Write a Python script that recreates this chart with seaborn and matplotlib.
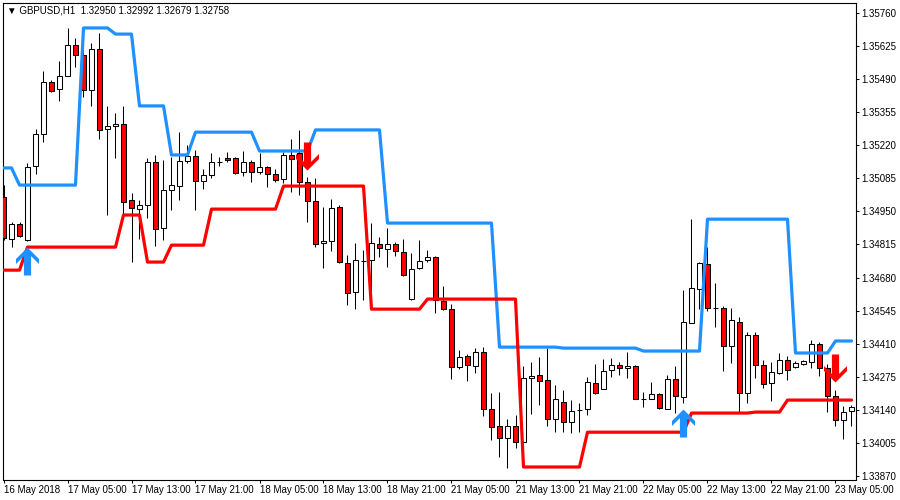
import matplotlib
matplotlib.use("Agg")
import numpy as np
import pandas as pd
import seaborn as sns
import matplotlib.pyplot as plt
from matplotlib.path import Path

# ---------------- data (GBPUSD H1) ----------------
open_ = [1.35008, 1.34837, 1.34898, 1.34833, 1.35135, 1.35265, 1.35477, 1.35449, 1.35502, 1.35628,
         1.35588, 1.35445, 1.35612, 1.35286, 1.35298, 1.35306, 1.34996, 1.34959, 1.34976, 1.35151,
         1.34882, 1.35037, 1.35053, 1.35155, 1.35176, 1.35074, 1.35098, 1.35151, 1.35167, 1.35167,
         1.35110, 1.35151, 1.35110, 1.35131, 1.35102, 1.35082, 1.35180, 1.35188, 1.35069, 1.34992,
         1.34821, 1.34829, 1.34967, 1.34739, 1.34621, 1.34747, 1.34751, 1.34817, 1.34796, 1.34817,
         1.34784, 1.34592, 1.34719, 1.34751, 1.34763, 1.34584, 1.34551, 1.34315, 1.34360, 1.34319,
         1.34376, 1.34143, 1.34074, 1.34025, 1.34074, 1.34009, 1.34270, 1.34282, 1.34262, 1.34102,
         1.34172, 1.34090, 1.34139, 1.34143, 1.34249, 1.34225, 1.34302, 1.34323, 1.34311, 1.34319,
         1.34184, 1.34184, 1.34204, 1.34143, 1.34266, 1.34192, 1.34494, 1.34633, 1.34735, 1.34555,
         1.34555, 1.34400, 1.34498, 1.34209, 1.34445, 1.34323, 1.34249, 1.34290, 1.34343, 1.34315,
         1.34327, 1.34335, 1.34408, 1.34311, 1.34196, 1.34098, 1.34135]
high = [1.35057, 1.34906, 1.34906, 1.35147, 1.35286, 1.35522, 1.35486, 1.35563, 1.35698, 1.35657,
        1.35608, 1.35637, 1.35677, 1.35380, 1.35351, 1.35380, 1.35025, 1.34996, 1.35167, 1.35180,
        1.35159, 1.35171, 1.35273, 1.35220, 1.35200, 1.35123, 1.35188, 1.35171, 1.35192, 1.35171,
        1.35196, 1.35159, 1.35188, 1.35135, 1.35123, 1.35192, 1.35245, 1.35282, 1.35090, 1.35086,
        1.34967, 1.35000, 1.34976, 1.34772, 1.34821, 1.34792, 1.34902, 1.34845, 1.34882, 1.34825,
        1.34837, 1.34780, 1.34833, 1.34792, 1.34768, 1.34645, 1.34572, 1.34384, 1.34368, 1.34392,
        1.34396, 1.34209, 1.34213, 1.34102, 1.34119, 1.34319, 1.34335, 1.34355, 1.34392, 1.34241,
        1.34221, 1.34180, 1.34168, 1.34274, 1.34327, 1.34347, 1.34351, 1.34335, 1.34376, 1.34323,
        1.34213, 1.34253, 1.34209, 1.34282, 1.34319, 1.34629, 1.34918, 1.34743, 1.34804, 1.34657,
        1.34564, 1.34555, 1.34519, 1.34457, 1.34457, 1.34343, 1.34335, 1.34372, 1.34360, 1.34339,
        1.34343, 1.34425, 1.34417, 1.34327, 1.34221, 1.34155, 1.34160]
low = [1.34833, 1.34804, 1.34845, 1.34829, 1.35102, 1.35233, 1.35437, 1.35400, 1.35502, 1.35539,
       1.35416, 1.35380, 1.35245, 1.34935, 1.35167, 1.34935, 1.34743, 1.34837, 1.34923, 1.34808,
       1.34833, 1.34955, 1.34996, 1.35147, 1.34955, 1.35041, 1.35086, 1.35135, 1.35151, 1.35102,
       1.35094, 1.35069, 1.35102, 1.35049, 1.35069, 1.35065, 1.35029, 1.35016, 1.34906, 1.34804,
       1.34719, 1.34788, 1.34739, 1.34568, 1.34551, 1.34588, 1.34617, 1.34763, 1.34723, 1.34768,
       1.34686, 1.34588, 1.34715, 1.34743, 1.34535, 1.34547, 1.34266, 1.34306, 1.34258, 1.34290,
       1.34115, 1.34017, 1.33947, 1.33903, 1.33984, 1.34009, 1.34123, 1.34160, 1.34074, 1.34049,
       1.34049, 1.34045, 1.34049, 1.34119, 1.34204, 1.34225, 1.34274, 1.34282, 1.34270, 1.34184,
       1.34151, 1.34184, 1.34143, 1.34143, 1.34127, 1.34168, 1.34494, 1.34551, 1.34543, 1.34478,
       1.34298, 1.34331, 1.34131, 1.34168, 1.34270, 1.34229, 1.34176, 1.34286, 1.34262, 1.34311,
       1.34323, 1.34311, 1.34278, 1.34131, 1.34074, 1.34021, 1.34074]
close = [1.34841, 1.34898, 1.34849, 1.35131, 1.35265, 1.35477, 1.35441, 1.35502, 1.35628, 1.35588,
         1.35445, 1.35612, 1.35282, 1.35298, 1.35306, 1.34988, 1.34963, 1.34976, 1.35151, 1.34878,
         1.35037, 1.35057, 1.35155, 1.35176, 1.35074, 1.35098, 1.35151, 1.35151, 1.35159, 1.35106,
         1.35151, 1.35110, 1.35131, 1.35102, 1.35078, 1.35180, 1.35163, 1.35069, 1.34992, 1.34817,
         1.34829, 1.34963, 1.34743, 1.34617, 1.34751, 1.34747, 1.34821, 1.34800, 1.34817, 1.34788,
         1.34690, 1.34715, 1.34747, 1.34763, 1.34588, 1.34551, 1.34315, 1.34355, 1.34323, 1.34376,
         1.34143, 1.34070, 1.34025, 1.34074, 1.34009, 1.34270, 1.34278, 1.34258, 1.34102, 1.34184,
         1.34090, 1.34135, 1.34139, 1.34253, 1.34209, 1.34298, 1.34323, 1.34311, 1.34319, 1.34184,
         1.34184, 1.34204, 1.34147, 1.34266, 1.34196, 1.34498, 1.34637, 1.34739, 1.34555, 1.34555,
         1.34400, 1.34506, 1.34209, 1.34445, 1.34323, 1.34245, 1.34294, 1.34343, 1.34302, 1.34331,
         1.34339, 1.34408, 1.34311, 1.34196, 1.34098, 1.34131, 1.34151]

upper = [1.35127, 1.35127,
         1.35057, 1.35057, 1.35057, 1.35057, 1.35057, 1.35057, 1.35057, 1.35057,
         1.35698, 1.35698, 1.35698, 1.35698,
         1.35673, 1.35673, 1.35673,
         1.35380, 1.35380, 1.35380, 1.35380,
         1.35180, 1.35180, 1.35180,
         1.35273, 1.35273, 1.35273, 1.35273, 1.35273, 1.35273, 1.35273, 1.35273,
         1.35196, 1.35196, 1.35196, 1.35196, 1.35196, 1.35196, 1.35196,
         1.35282, 1.35282, 1.35282, 1.35282, 1.35282, 1.35282, 1.35282, 1.35282, 1.35282,
         1.34902, 1.34902, 1.34902, 1.34902, 1.34902, 1.34902, 1.34902, 1.34902, 1.34902, 1.34902,
         1.34902, 1.34902, 1.34902, 1.34902,
         1.34396, 1.34396, 1.34396, 1.34396, 1.34396, 1.34396, 1.34396, 1.34396,
         1.34392, 1.34392, 1.34392, 1.34392, 1.34392, 1.34392, 1.34392, 1.34392, 1.34392, 1.34392,
         1.34380, 1.34380, 1.34380, 1.34380, 1.34380, 1.34380, 1.34380, 1.34380,
         1.34918, 1.34918, 1.34918, 1.34918, 1.34918, 1.34918, 1.34918, 1.34918, 1.34918, 1.34918,
         1.34918,
         1.34372, 1.34372, 1.34372, 1.34372, 1.34372,
         1.34421, 1.34421, 1.34421]
lower = [1.34710, 1.34710, 1.34710,
         1.34804, 1.34804, 1.34804, 1.34804, 1.34804, 1.34804, 1.34804, 1.34804, 1.34804, 1.34804,
         1.34804, 1.34804,
         1.34935, 1.34935, 1.34935,
         1.34743, 1.34743, 1.34743,
         1.34812, 1.34812, 1.34812, 1.34812, 1.34812,
         1.34959, 1.34959, 1.34959, 1.34959, 1.34959, 1.34959, 1.34959, 1.34959, 1.34959,
         1.35053, 1.35053, 1.35053, 1.35053, 1.35053, 1.35053, 1.35053, 1.35053, 1.35053, 1.35053,
         1.35053,
         1.34551, 1.34551, 1.34551, 1.34551, 1.34551, 1.34551, 1.34551,
         1.34592, 1.34592, 1.34592, 1.34592, 1.34592, 1.34592, 1.34592, 1.34592, 1.34592, 1.34592,
         1.34592, 1.34592,
         1.33907, 1.33907, 1.33907, 1.33907, 1.33907, 1.33907, 1.33907, 1.33907,
         1.34049, 1.34049, 1.34049, 1.34049, 1.34049, 1.34049, 1.34049, 1.34049, 1.34049, 1.34049,
         1.34049, 1.34049, 1.34049,
         1.34127, 1.34127, 1.34127, 1.34127, 1.34127, 1.34127, 1.34127, 1.34127,
         1.34131, 1.34131, 1.34131, 1.34131,
         1.34180, 1.34180, 1.34180, 1.34180, 1.34180, 1.34180, 1.34180, 1.34180, 1.34180]

buy_bars = [3, 85]
buy_prices = [1.34805, 1.34145]
sell_bars = [38, 104]
sell_prices = [1.35118, 1.34255]

x_tick_bars = [0, 8, 16, 24, 32, 40, 48, 56, 64, 72, 80, 88, 96, 104]
x_tick_labels = ["16 May 2018", "17 May 05:00", "17 May 13:00", "17 May 21:00",
                 "18 May 05:00", "18 May 13:00", "18 May 21:00", "21 May 05:00",
                 "21 May 13:00", "21 May 21:00", "22 May 05:00", "22 May 13:00",
                 "22 May 21:00", "23 May 05:00"]
y_ticks = [1.35760, 1.35625, 1.35490, 1.35355, 1.35220, 1.35085, 1.34950, 1.34815,
           1.34680, 1.34545, 1.34410, 1.34275, 1.34140, 1.34005, 1.33870]
title_text = "\u25bc GBPUSD,H1  1.32950 1.32992 1.32679 1.32758"

# ---------------- styling ----------------
sns.set_style("white")
plt.rcParams["font.family"] = ["Liberation Sans", "DejaVu Sans"]

BLUE = "#1E90FF"
RED = "#FF0000"

df = pd.DataFrame({"bar": np.arange(len(open_)), "open": open_, "high": high,
                   "low": low, "close": close, "upper": upper, "lower": lower})

fig = plt.figure(figsize=(9, 5), dpi=100)
ax = fig.add_axes([2.7 / 900, 1 - 479.5 / 500, (855.7 - 2.7) / 900, (479.5 - 2.7) / 500])
ax.set_facecolor("white")

# wicks
ax.vlines(df["bar"], df["low"], df["high"], color="black", linewidth=0.75, zorder=2)

# bodies
up = df["close"] >= df["open"]
body_h = df["close"] - df["open"]
colors = np.where(up, "white", RED)
ax.bar(df["bar"], body_h, bottom=df["open"], width=0.52, color=colors,
       edgecolor="black", linewidth=0.75, zorder=3)

# channel lines
sns.lineplot(data=df, x="bar", y="upper", ax=ax, color=BLUE, linewidth=2.3,
             estimator=None, zorder=4)
sns.lineplot(data=df, x="bar", y="lower", ax=ax, color=RED, linewidth=2.3,
             estimator=None, zorder=4)

# arrows (tip at the signal price)
up_verts = np.array([(0, 0), (11.5, -11.5), (11.5, -16.5), (3.6, -8.6), (3.6, -28),
                     (-3.6, -28), (-3.6, -8.6), (-11.5, -16.5), (-11.5, -11.5), (0, 0)])
up_path = Path(up_verts, closed=True)
down_path = Path(up_verts * np.array([1, -1]), closed=True)
msize = 28 * 0.72 * 2
ax.plot(buy_bars, buy_prices, linestyle="none", marker=up_path, markersize=msize,
        markerfacecolor=BLUE, markeredgewidth=0, zorder=5)
ax.plot(sell_bars, sell_prices, linestyle="none", marker=down_path, markersize=msize,
        markerfacecolor=RED, markeredgewidth=0, zorder=5)

# axes
ax.set_xlim(-0.1, 106.525)
ax.set_ylim(1.33856, 1.35801)
ax.yaxis.tick_right()
ax.set_yticks(y_ticks)
ax.set_yticklabels([f"{v:.5f}" for v in y_ticks])
ax.set_xticks(x_tick_bars)
ax.set_xticklabels(x_tick_labels, ha="left")
ax.tick_params(axis="both", direction="out", length=2.3, width=0.75, color="black",
               labelsize=7, labelcolor="black")
ax.tick_params(axis="y", pad=2, right=True, left=False)
ax.tick_params(axis="x", pad=1.5, bottom=True)
ax.set_xlabel("")
ax.set_ylabel("")
for s in ax.spines.values():
    s.set_visible(True)
    s.set_color("black")
    s.set_linewidth(0.8)

fig.text(7 / 900, 1 - 10.7 / 500, title_text, fontsize=7, va="center", ha="left",
         color="black")

fig.savefig("out.png", dpi=100, facecolor="white")
